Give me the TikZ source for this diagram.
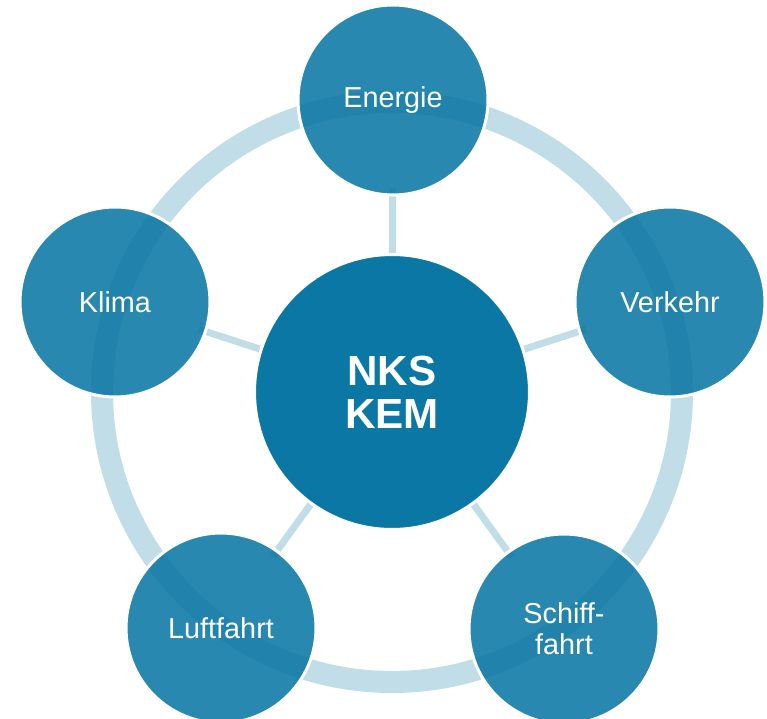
\documentclass[tikz,border=0pt]{standalone}
\usepackage{fontspec}
\setmainfont{Liberation Sans}
\usetikzlibrary{backgrounds}
\definecolor{azulKEM}{RGB}{11,119,164}
\definecolor{anillo}{RGB}{193,222,232}

\begin{document}
\begin{tikzpicture}[x=0.02cm,y=-0.02cm,
	tema/.style={circle,fill=azulKEM,fill opacity=0.88,text opacity=1,draw=white,line width=0.06cm,
		minimum size=3.8cm,inner sep=0pt,align=center,text=white,font=\fontsize{16.4}{17.5}\selectfont},
	centro/.style={circle,fill=azulKEM,draw=white,line width=0.06cm,minimum size=5.5cm,inner sep=0pt,
		align=center,text=white,font=\fontsize{24}{24.5}\selectfont\bfseries},
	radio/.style={anillo,line width=0.14cm,shorten >=-0.16cm}]
	\useasboundingbox (0,0) rectangle (767,719);
% CENTRO
	\node [centro] (kem) at (392,392) {NKS\\KEM};
% TEMAS
	\node [tema] (energie) at (393,100) {Energie};
	\node [tema] (verkehr) at (670,302) {Verkehr};
	\node [tema] (schiff) at (564,629) {Schiff-\\fahrt};
	\node [tema] (luft) at (221,628) {Luftfahrt};
	\node [tema] (klima) at (115,302) {Klima};
% ANILLO Y RADIOS
	\begin{scope}[on background layer]
		\draw [anillo,line width=0.44cm] (kem.center) circle (290);
		\draw [radio] (kem) -- (energie);
		\draw [radio] (kem) -- (verkehr);
		\draw [radio] (kem) -- (schiff);
		\draw [radio] (kem) -- (luft);
		\draw [radio] (kem) -- (klima);
	\end{scope}
\end{tikzpicture}
\end{document}
